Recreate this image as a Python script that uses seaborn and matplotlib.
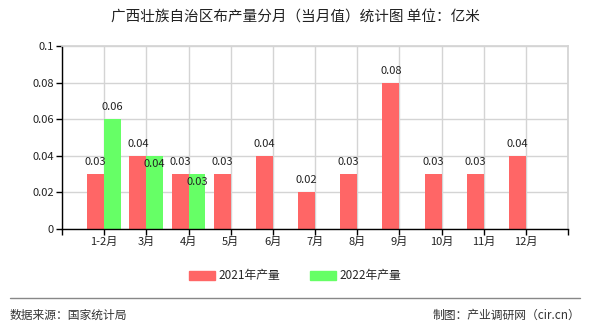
import numpy as np
import pandas as pd
import matplotlib
matplotlib.use("Agg")
import matplotlib.pyplot as plt
import seaborn as sns

months = ["1-2月", "3月", "4月", "5月", "6月", "7月", "8月", "9月", "10月", "11月", "12月"]
vals_2021 = [0.03, 0.04, 0.03, 0.03, 0.04, 0.02, 0.03, 0.08, 0.03, 0.03, 0.04]
vals_2022 = [0.06, 0.04, 0.03, None, None, None, None, None, None, None, None]
series = ["2021年产量", "2022年产量"]
colors = ["#FF6666", "#66FF66"]
yticks = [0, 0.02, 0.04, 0.06, 0.08, 0.1]
ytick_labels = ["0", "0.02", "0.04", "0.06", "0.08", "0.1"]
title = "广西壮族自治区布产量分月（当月值）统计图 单位：亿米"
source = "数据来源：国家统计局"
credit = "制图：产业调研网（cir.cn）"

sns.set_theme(style="white")
plt.rcParams["font.family"] = ["Noto Sans CJK SC", "DejaVu Sans"]

df = pd.DataFrame({
    "month": months * 2,
    "value": [v if v is not None else np.nan for v in vals_2021 + vals_2022],
    "series": [series[0]] * len(months) + [series[1]] * len(months),
})

fig = plt.figure(figsize=(5.9, 3.3), dpi=100)
ax = fig.add_axes([62 / 590, 1 - 229 / 330, (568 - 62) / 590, (229 - 46) / 330])

sns.barplot(data=df, x="month", y="value", hue="series", order=months,
            hue_order=series, palette=colors, width=0.8, saturation=1,
            linewidth=0, edgecolor="none", ax=ax, zorder=2, legend=True)

ax.set_xlim(-1, len(months))
ax.set_ylim(0, 0.1)
ax.set_yticks(yticks)
ax.set_yticklabels(ytick_labels, fontsize=8)
xt = list(range(-1, len(months) + 1))
ax.set_xticks(xt)
ax.set_xticklabels([""] + months + [""], fontsize=8)
ax.set_xlabel("")
ax.set_ylabel("")
ax.grid(True, color="#d4d4d4", linewidth=1, zorder=0)
ax.set_axisbelow(True)
for s in ["top", "right"]:
    ax.spines[s].set_color("#d4d4d4")
for s in ["left", "bottom"]:
    ax.spines[s].set_color("black")
    ax.spines[s].set_linewidth(1)
ax.tick_params(axis="both", which="both", length=4, width=1, color="black",
               direction="out", bottom=True, left=True, pad=2, labelcolor="#222222")

# value labels
offsets_2022 = [12, -8, -8]
for ci, cont in enumerate(ax.containers):
    vals = vals_2021 if ci == 0 else vals_2022
    for i, patch in enumerate(cont.patches):
        v = vals[i]
        if v is None:
            continue
        off = 12 if ci == 0 else offsets_2022[i]
        ax.annotate(f"{v:g}", (patch.get_x() + patch.get_width() / 2, v),
                    xytext=(0, off), textcoords="offset pixels",
                    ha="center", va="center", fontsize=8, color="#222222", zorder=5)

leg = ax.get_legend()
if leg is not None:
    leg.remove()
handles = [plt.Rectangle((0, 0), 1, 1, color=c) for c in colors]
fig.legend(handles, series, loc="center", bbox_to_anchor=(0.5, 1 - 276 / 330),
           ncol=2, frameon=False, fontsize=8.5, handlelength=2.2, handleheight=0.9,
           columnspacing=2.5, handletextpad=0.3)

fig.text(0.5, 1 - 18 / 330, title, ha="center", va="center", fontsize=10.5, color="#222222")
fig.add_artist(plt.Line2D([10 / 590, 580 / 590], [1 - 298 / 330, 1 - 298 / 330],
                          color="#888888", linewidth=1))
fig.text(10 / 590, 1 - 315 / 330, source, ha="left", va="center", fontsize=8.5, color="#333333")
fig.text(580 / 590, 1 - 315 / 330, credit, ha="right", va="center", fontsize=8.5, color="#333333")

fig.savefig("out.png", dpi=100)
